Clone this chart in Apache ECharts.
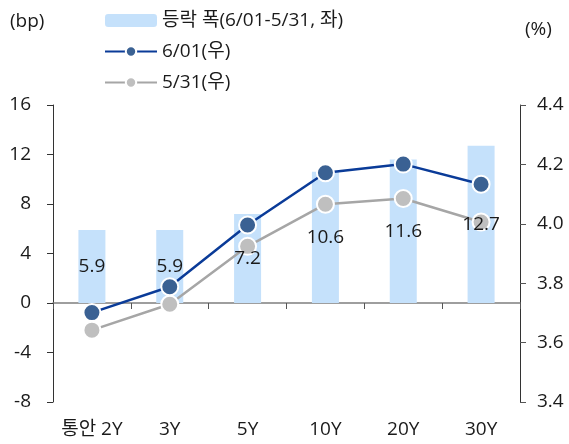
<!DOCTYPE html>
<html>
<head>
<meta charset="utf-8">
<script src="https://cdn.jsdelivr.net/npm/echarts@6/dist/echarts.min.js"></script>
<style>
  html, body { margin: 0; padding: 0; background: #fff; }
  #chart { width: 569px; height: 444px; }
</style>
</head>
<body>
<div id="chart"></div>
<script>
var categories = ['통안 2Y', '3Y', '5Y', '10Y', '20Y', '30Y'];
var spreadBp = [5.9, 5.9, 7.2, 10.6, 11.6, 12.7];
var yield0601 = [3.701, 3.788, 3.996, 4.172, 4.201, 4.133];
var yield0531 = [3.642, 3.729, 3.924, 4.066, 4.085, 4.006];
var leftTicks = { min: -8, max: 16, step: 4 };
var rightTicks = { min: 3.4, max: 4.4, step: 0.2 };

var font = '"Open Sans", "Noto Sans CJK KR", sans-serif';
var textColor = '#1a1a1a';

document.addEventListener("DOMContentLoaded", () => {
    var chart = echarts.init(document.querySelector("#chart"));
    chart.setOption({
        animation: false,
        textStyle: { fontFamily: font },
        grid: { left: 53, right: 49, top: 105, bottom: 42 },
        legend: {
            orient: 'vertical',
            left: 99,
            top: 6,
            itemWidth: 52,
            itemHeight: 13,
            itemGap: 12,
            textStyle: { fontSize: 19, color: textColor, fontFamily: font },
            data: ['등락 폭(6/01-5/31, 좌)', '6/01(우)', '5/31(우)']
        },
        graphic: [
            { type: 'text', left: 10, top: 12, style: { text: '(bp)', fill: textColor, font: '19px ' + font } },
            { type: 'text', left: 525, top: 20, style: { text: '(%)', fill: textColor, font: '19px ' + font } }
        ],
        xAxis: [{
            type: 'category',
            data: categories,
            position: 'bottom',
            axisLine: { show: false, onZero: false },
            axisTick: { show: false },
            axisLabel: { fontSize: 19, color: textColor, margin: 18, interval: 0, hideOverlap: false }
        }, {
            type: 'category',
            data: categories,
            position: 'bottom',
            axisLine: { show: true, onZero: true, lineStyle: { color: '#7f7f7f', width: 1.5 } },
            axisTick: { show: true, length: 6, interval: 0, lineStyle: { color: '#555' } },
            axisLabel: { show: false }
        }],
        yAxis: [{
            type: 'value',
            min: leftTicks.min,
            max: leftTicks.max,
            interval: leftTicks.step,
            axisLine: { show: true, lineStyle: { color: '#333' } },
            axisTick: { show: true, length: 6, lineStyle: { color: '#333' } },
            splitLine: { show: false },
            axisLabel: { fontSize: 19, color: textColor, margin: 22 }
        }, {
            type: 'value',
            position: 'right',
            min: rightTicks.min,
            max: rightTicks.max,
            interval: rightTicks.step,
            axisLine: { show: true, lineStyle: { color: '#333' } },
            axisTick: { show: true, length: 6, lineStyle: { color: '#555' } },
            splitLine: { show: false },
            axisLabel: {
                fontSize: 19, color: textColor, margin: 17,
                formatter: v => v.toFixed(1)
            }
        }],
        series: [{
            name: '등락 폭(6/01-5/31, 좌)',
            type: 'bar',
            data: spreadBp,
            barWidth: 27,
            itemStyle: { color: '#c5e1fb' },
            z: 1
        }, {
            name: '6/01(우)',
            type: 'line',
            yAxisIndex: 1,
            data: yield0601,
            symbol: 'circle',
            symbolSize: 17,
            lineStyle: { color: '#0a3b98', width: 2.5 },
            itemStyle: { color: '#3a6193', borderColor: '#fff', borderWidth: 2 },
            z: 3
        }, {
            name: '5/31(우)',
            type: 'line',
            yAxisIndex: 1,
            data: yield0531,
            symbol: 'circle',
            symbolSize: 17,
            lineStyle: { color: '#a6a6a6', width: 2.5 },
            itemStyle: { color: '#bfbfbf', borderColor: '#fff', borderWidth: 2 },
            z: 2
        }, {
            // transparent twin of the bars, only to put the value labels above the lines
            name: 'labels',
            type: 'bar',
            data: spreadBp,
            barWidth: 27,
            barGap: '-100%',
            silent: true,
            itemStyle: { color: 'rgba(0,0,0,0)' },
            label: {
                show: true,
                position: 'inside',
                fontSize: 19,
                color: textColor,
                formatter: p => p.value.toFixed(1)
            },
            z: 10
        }]
    });
});
</script>
</body>
</html>
